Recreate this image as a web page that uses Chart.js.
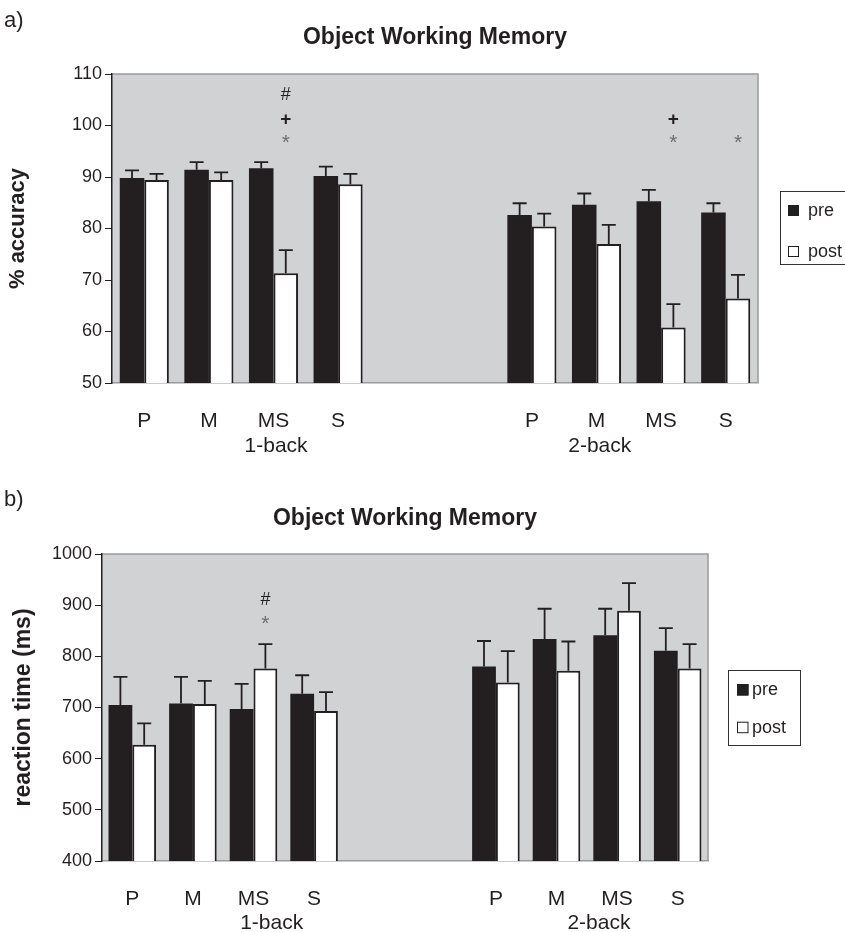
<!DOCTYPE html>
<html><head><meta charset="utf-8">
<script src="https://cdn.jsdelivr.net/npm/chart.js@4.4.1/dist/chart.umd.min.js"></script>
<style>
html,body{margin:0;padding:0;background:#fff;}
#wrap{position:relative;width:845px;height:932px;overflow:hidden;}
canvas{position:absolute;left:0;}
#c1{top:0;} #c2{top:465px;}
</style></head><body>
<div id="wrap">
<canvas id="c1" width="845" height="465"></canvas>
<canvas id="c2" width="845" height="467"></canvas>
</div>
<script>
// ---------- data ----------
const categories = ['P', 'M', 'MS', 'S', '', '', 'P', 'M', 'MS', 'S'];
const groupLabels = ['1-back', '2-back'];
const seriesNames = ['pre', 'post'];
const chartTitle = 'Object Working Memory';

const accPre     = [89.8, 91.4, 91.7, 90.2, null, null, 82.6, 84.6, 85.3, 83.1];
const accPreErr  = [1.5, 1.5, 1.2, 1.8, null, null, 2.3, 2.2, 2.2, 1.8];
const accPost    = [89.4, 89.4, 71.3, 88.6, null, null, 80.4, 77.0, 60.8, 66.4];
const accPostErr = [1.2, 1.5, 4.5, 2.0, null, null, 2.5, 3.7, 4.5, 4.6];
const accTicks   = [50, 60, 70, 80, 90, 100, 110];

const rtPre      = [705, 708, 697, 727, null, null, 780, 834, 841, 811];
const rtPreErr   = [55, 52, 49, 36, null, null, 50, 59, 52, 44];
const rtPost     = [627, 707, 776, 693, null, null, 749, 772, 889, 776];
const rtPostErr  = [42, 45, 48, 37, null, null, 61, 57, 54, 48];
const rtTicks    = [400, 500, 600, 700, 800, 900, 1000];

// significance marks (category index, symbol, value)
const accMarkIdx = [2, 2, 2, 8, 8, 9];
const accMarkSym = ['#', '+', '*', '+', '*', '*'];
const accMarkVal = [105.9, 101.2, 96.6, 101.2, 96.6, 96.6];
const rtMarkIdx  = [2, 2];
const rtMarkSym  = ['#', '*'];
const rtMarkVal  = [910, 862];

// ---------- styling ----------
const FONT = "'Liberation Sans', Arial, Helvetica, sans-serif";
const INK = '#231f20';
const PLOT_BG = '#d1d2d4';
const FRAME = '#9a9a9a';
const SYM_STYLE = {
  '#': {font: '18px ' + FONT, color: INK},
  '+': {font: 'bold 19px ' + FONT, color: INK},
  '*': {font: '21px ' + FONT, color: '#6d6e71'}
};

const decoPlugin = {
  id: 'deco',
  beforeDraw(chart) {
    const {ctx, chartArea: a} = chart;
    ctx.save();
    ctx.fillStyle = PLOT_BG;
    ctx.fillRect(a.left, a.top, a.right - a.left, a.bottom - a.top);
    ctx.strokeStyle = FRAME;
    ctx.lineWidth = 1.5;
    ctx.beginPath();
    ctx.moveTo(a.left, a.top);
    ctx.lineTo(a.right, a.top);
    ctx.lineTo(a.right, a.bottom);
    ctx.stroke();
    ctx.restore();
  },
  afterDatasetsDraw(chart) {
    const {ctx} = chart;
    const yS = chart.scales.y;
    ctx.save();
    ctx.strokeStyle = INK;
    ctx.lineWidth = 1.8;
    chart.data.datasets.forEach((ds, di) => {
      const meta = chart.getDatasetMeta(di);
      ds.data.forEach((v, i) => {
        if (v === null || ds.errors[i] === null) return;
        const bar = meta.data[i];
        const yTop = yS.getPixelForValue(v + ds.errors[i]);
        ctx.beginPath();
        ctx.moveTo(bar.x, bar.y);
        ctx.lineTo(bar.x, yTop);
        ctx.moveTo(bar.x - 7, yTop);
        ctx.lineTo(bar.x + 7, yTop);
        ctx.stroke();
      });
    });
    ctx.restore();
  },
  afterDraw(chart, args, o) {
    const {ctx} = chart;
    const xS = chart.scales.x, yS = chart.scales.y;
    ctx.save();
    // significance marks
    const postMeta = chart.getDatasetMeta(1);
    o.markIdx.forEach((idx, k) => {
      const st = SYM_STYLE[o.markSym[k]];
      ctx.font = st.font;
      ctx.fillStyle = st.color;
      ctx.textAlign = 'center';
      ctx.textBaseline = 'middle';
      ctx.fillText(o.markSym[k], postMeta.data[idx].x, yS.getPixelForValue(o.markVal[k]));
    });
    // group labels
    ctx.font = '21px ' + FONT;
    ctx.fillStyle = INK;
    ctx.textAlign = 'center';
    ctx.textBaseline = 'alphabetic';
    groupLabels.forEach((g, k) => {
      ctx.fillText(g, xS.getPixelForValue(o.groupAt[k]), xS.top + o.groupDy);
    });
    // panel letter
    ctx.font = '22px ' + FONT;
    ctx.textAlign = 'left';
    ctx.fillText(o.panel, o.panelX, o.panelY);
    // legend
    const L = o.legend;
    ctx.strokeStyle = '#333';
    ctx.lineWidth = 1;
    ctx.strokeRect(L.x, L.y, L.w, L.h);
    ctx.font = '18px ' + FONT;
    ctx.textBaseline = 'middle';
    chart.data.datasets.forEach((ds, di) => {
      const sy = L.sq[di];
      ctx.fillStyle = ds.backgroundColor;
      ctx.fillRect(L.sx, sy, L.s, L.s);
      ctx.strokeStyle = INK;
      ctx.lineWidth = 1;
      ctx.strokeRect(L.sx + 0.5, sy + 0.5, L.s - 1, L.s - 1);
      ctx.fillStyle = INK;
      ctx.fillText(ds.label, L.tx, sy + L.s / 2 + 0.5);
    });
    ctx.restore();
  }
};

function buildChart(id, p) {
  return new Chart(document.getElementById(id), {
    type: 'bar',
    data: {
      labels: categories,
      datasets: [
        {label: seriesNames[0], data: p.pre, errors: p.preErr, backgroundColor: INK, borderColor: INK, borderWidth: 0},
        {label: seriesNames[1], data: p.post, errors: p.postErr, backgroundColor: '#ffffff', borderColor: INK, borderWidth: 2}
      ]
    },
    options: {
      responsive: false,
      animation: false,
      devicePixelRatio: 1,
      categoryPercentage: p.catPct,
      barPercentage: 1,
      layout: {padding: {left: 0, top: 0, right: p.padRight, bottom: 0}},
      plugins: {
        legend: {display: false},
        tooltip: {enabled: false},
        title: {
          display: true, text: chartTitle, fullSize: false, color: INK,
          font: {family: FONT, size: 23, weight: 'bold'},
          padding: {top: p.titleTop, bottom: p.titleBottom}
        },
        deco: p.deco
      },
      scales: {
        x: {
          grid: {display: false},
          border: {display: true, color: FRAME, width: 1.5},
          ticks: {color: INK, font: {family: FONT, size: 21}, padding: 18, maxRotation: 0, autoSkip: false},
          afterFit(s) { s.height = p.xH; }
        },
        y: {
          min: p.ticks[0], max: p.ticks[p.ticks.length - 1],
          afterBuildTicks(s) { s.ticks = p.ticks.map(v => ({value: v})); },
          ticks: {color: INK, font: {family: FONT, size: 18}, padding: 3, callback: v => String(v)},
          grid: {display: true, drawOnChartArea: false, drawTicks: true, tickLength: 7, color: INK, lineWidth: 1},
          border: {display: true, color: INK, width: 1.5},
          title: {display: true, text: p.yTitle, color: INK, font: {family: FONT, size: p.yTitleSize, weight: 'bold'}, padding: {top: p.yTitlePad, bottom: 0}},
          afterFit(s) { s.width = p.yW; }
        }
      }
    },
    plugins: [decoPlugin]
  });
}

buildChart('c1', {
  pre: accPre, preErr: accPreErr, post: accPost, postErr: accPostErr, ticks: accTicks,
  yTitle: '% accuracy', catPct: 0.76, padRight: 87, titleTop: 24, titleBottom: 22.4,
  xH: 82, yW: 112, yTitlePad: 5, yTitleSize: 22,
  deco: {
    markIdx: accMarkIdx, markSym: accMarkSym, markVal: accMarkVal,
    groupAt: [2.04, 7.05], groupDy: 68.7, panel: 'a)', panelX: 4, panelY: 27,
    legend: {x: 780.5, y: 191.5, w: 80, h: 73, sx: 788, s: 11, sq: [205, 246], tx: 808}
  }
});

buildChart('c2', {
  pre: rtPre, preErr: rtPreErr, post: rtPost, postErr: rtPostErr, ticks: rtTicks,
  yTitle: 'reaction time (ms)', catPct: 0.785, padRight: 137, titleTop: 39.7, titleBottom: 21.7,
  xH: 71, yW: 102, yTitlePad: 10, yTitleSize: 23,
  deco: {
    markIdx: rtMarkIdx, markSym: rtMarkSym, markVal: rtMarkVal,
    groupAt: [2.3, 7.7], groupDy: 67.5, panel: 'b)', panelX: 4, panelY: 41,
    legend: {x: 728.5, y: 205.5, w: 72, h: 75, sx: 737, s: 11.5, sq: [219, 256.7], tx: 752}
  }
});
</script>
</body></html>
